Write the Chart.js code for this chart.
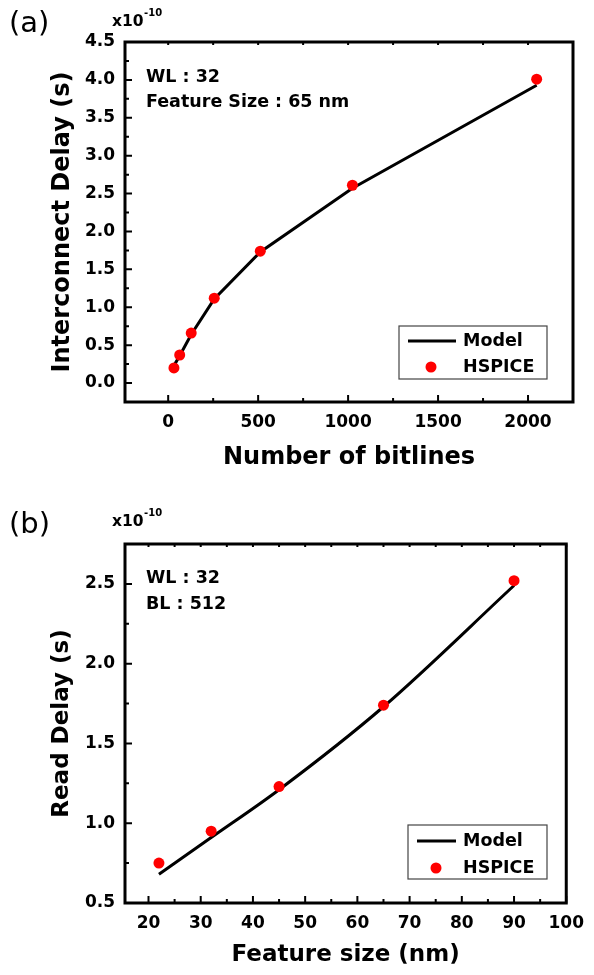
<!DOCTYPE html>
<html>
<head>
<meta charset="utf-8">
<script src="https://cdn.jsdelivr.net/npm/chart.js@4.4.0/dist/chart.umd.min.js"></script>
<style>
  html, body { margin: 0; padding: 0; background: #fff; }
  #wrap { position: relative; width: 594px; height: 975px; }
  canvas { position: absolute; left: 0; }
  #chartA { top: 0; }
  #chartB { top: 487px; }
</style>
</head>
<body>
<div id="wrap">
  <canvas id="chartA" width="594" height="487"></canvas>
  <canvas id="chartB" width="594" height="488"></canvas>
</div>
<script>
// (a) interconnect delay vs bitlines, values in units of 1e-10 s
const bitlines = [32, 64, 128, 256, 512, 1024, 2048];
const interconnectModel = [0.23, 0.36, 0.64, 1.11, 1.73, 2.57, 3.93];
const interconnectHspice = [0.20, 0.37, 0.66, 1.12, 1.74, 2.61, 4.01];
const bitlineTicks = [0, 500, 1000, 1500, 2000];
const interconnectTicks = [0.0, 0.5, 1.0, 1.5, 2.0, 2.5, 3.0, 3.5, 4.0, 4.5];

// (b) read delay vs feature size, units of 1e-10 s
const featureSizes = [22, 32, 45, 65, 90];
const readModel = [0.68, 0.91, 1.21, 1.73, 2.49];
const readHspice = [0.75, 0.95, 1.23, 1.74, 2.52];
const featureTicks = [20, 30, 40, 50, 60, 70, 80, 90, 100];
const readTicks = [0.5, 1.0, 1.5, 2.0, 2.5];

Chart.defaults.font.family = "'DejaVu Sans', sans-serif";
Chart.defaults.color = '#000';

const FONT = "'DejaVu Sans', sans-serif";

function tickSets(scale) {
  const major = scale.ticks.map(t => t.value);
  const step = major[1] - major[0];
  const minor = [];
  for (let v = major[0] - step / 2; v <= major[major.length - 1] + step / 2 + 1e-9; v += step) {
    minor.push(v);
  }
  return { major, minor };
}

const framePlugin = {
  id: 'frame',
  afterDraw(chart, args, opts) {
    const ctx = chart.ctx;
    const { left, top, right, bottom } = chart.chartArea;
    const sx = chart.scales.x, sy = chart.scales.y;
    ctx.save();
    ctx.strokeStyle = '#000';
    ctx.lineWidth = 2;

    // inward ticks
    const xt = tickSets(sx), yt = tickSets(sy);
    ctx.beginPath();
    xt.major.forEach(v => {
      const p = sx.getPixelForValue(v);
      ctx.moveTo(p, bottom); ctx.lineTo(p, bottom - 7);
      ctx.moveTo(p, top); ctx.lineTo(p, top + 3);
    });
    xt.minor.forEach(v => {
      const p = sx.getPixelForValue(v);
      if (p < left + 3 || p > right - 3) return;
      ctx.moveTo(p, bottom); ctx.lineTo(p, bottom - 4);
      ctx.moveTo(p, top); ctx.lineTo(p, top + 3);
    });
    yt.major.forEach(v => {
      const p = sy.getPixelForValue(v);
      ctx.moveTo(left, p); ctx.lineTo(left + 7, p);
    });
    yt.minor.forEach(v => {
      const p = sy.getPixelForValue(v);
      if (p < top + 3 || p > bottom - 3) return;
      ctx.moveTo(left, p); ctx.lineTo(left + 4, p);
    });
    ctx.stroke();

    // frame
    ctx.lineWidth = 3;
    ctx.strokeRect(left, top, right - left, bottom - top);

    // panel tag
    ctx.fillStyle = '#000';
    ctx.textBaseline = 'middle';
    ctx.textAlign = 'left';
    ctx.font = '29px ' + FONT;
    ctx.fillText(opts.tag, 9, opts.tagY);

    // exponent
    ctx.textBaseline = 'alphabetic';
    ctx.font = 'bold 15.5px ' + FONT;
    ctx.fillText('x10', 112, opts.expY);
    const w = ctx.measureText('x10').width;
    ctx.font = 'bold 10px ' + FONT;
    ctx.fillText('-10', 112 + w + 0.5, opts.expY - 10);

    // notes
    ctx.textBaseline = 'middle';
    ctx.font = 'bold 17.5px ' + FONT;
    opts.notes.forEach((n, i) => ctx.fillText(n, 146, opts.noteY[i]));

    // legend
    const lg = opts.legend;
    ctx.lineWidth = 1.2;
    ctx.strokeStyle = '#444';
    ctx.strokeRect(lg.x, lg.y, lg.w, lg.h);
    const dsModel = chart.data.datasets.find(d => d.label === 'Model');
    const dsH = chart.data.datasets.find(d => d.label === 'HSPICE');
    ctx.strokeStyle = dsModel.borderColor;
    ctx.lineWidth = dsModel.borderWidth;
    ctx.beginPath();
    ctx.moveTo(lg.lineX0, lg.row1); ctx.lineTo(lg.lineX1, lg.row1);
    ctx.stroke();
    ctx.fillStyle = dsH.pointBackgroundColor;
    ctx.beginPath();
    ctx.arc(lg.dotX, lg.row2, 5.5, 0, Math.PI * 2);
    ctx.fill();
    ctx.fillStyle = '#000';
    ctx.font = 'bold 17.5px ' + FONT;
    ctx.fillText(dsModel.label, lg.textX, lg.row1);
    ctx.fillText(dsH.label, lg.textX, lg.row2);
    ctx.restore();
  }
};

function makeChart(id, xs, model, hspice, c) {
  const modelSet = {
    label: 'Model',
    data: xs.map((x, i) => ({ x: x, y: model[i] })),
    borderColor: '#000000',
    borderWidth: 3,
    pointRadius: 0,
    order: 1
  };
  if (c.smooth) modelSet.cubicInterpolationMode = 'monotone';
  else modelSet.tension = 0;

  return new Chart(document.getElementById(id), {
    type: 'line',
    data: {
      datasets: [
        {
          label: 'HSPICE',
          data: xs.map((x, i) => ({ x: x, y: hspice[i] })),
          showLine: false,
          pointRadius: 5.5,
          pointBackgroundColor: '#ff0000',
          pointBorderWidth: 0,
          order: 0
        },
        modelSet
      ]
    },
    options: {
      responsive: false,
      animation: false,
      devicePixelRatio: 1,
      layout: { padding: { top: c.padTop, right: 21, left: 0, bottom: 0 } },
      plugins: {
        legend: { display: false },
        tooltip: { enabled: false },
        frame: c.frame
      },
      scales: {
        x: {
          type: 'linear',
          min: c.xMin,
          max: c.xMax,
          grid: { display: false, drawTicks: false },
          border: { display: false },
          afterFit(s) { s.height = c.xHeight; },
          afterBuildTicks(s) { s.ticks = c.xTicks.map(v => ({ value: v })); },
          ticks: {
            autoSkip: false,
            maxRotation: 0,
            padding: 10,
            font: { size: 17, weight: 'bold' },
            callback: v => String(v)
          },
          title: {
            display: true,
            text: c.xTitle,
            font: { size: c.xTitleSize, weight: 'bold' },
            padding: { top: 0, bottom: c.xTitlePad }
          }
        },
        y: {
          type: 'linear',
          min: c.yMin,
          max: c.yMax,
          grid: { display: false, drawTicks: false },
          border: { display: false },
          afterFit(s) { s.width = 125; },
          afterBuildTicks(s) { s.ticks = c.yTicks.map(v => ({ value: v })); },
          ticks: {
            autoSkip: false,
            padding: 10,
            font: { size: 17, weight: 'bold' },
            callback: v => Number(v).toFixed(1)
          },
          title: {
            display: true,
            text: c.yTitle,
            font: { size: c.yTitleSize, weight: 'bold' },
            padding: { top: 48, bottom: 0 }
          }
        }
      }
    },
    plugins: [framePlugin]
  });
}

makeChart('chartA', bitlines, interconnectModel, interconnectHspice, {
  padTop: 42, xHeight: 85, smooth: false,
  xMin: -240, xMax: 2250, yMin: -0.25, yMax: 4.5,
  xTicks: bitlineTicks, yTicks: interconnectTicks,
  xTitle: 'Number of bitlines', xTitleSize: 24, xTitlePad: 15,
  yTitle: 'Interconnect Delay (s)', yTitleSize: 24,
  frame: {
    tag: '(a)', tagY: 24, expY: 26,
    notes: ['WL : 32', 'Feature Size : 65 nm'], noteY: [77, 102],
    legend: { x: 399, y: 326, w: 148, h: 53, lineX0: 408, lineX1: 456, dotX: 431, textX: 463, row1: 341, row2: 367 }
  }
});

makeChart('chartB', featureSizes, readModel, readHspice, {
  padTop: 57, xHeight: 72, smooth: true,
  xMin: 15.5, xMax: 100, yMin: 0.5, yMax: 2.75,
  xTicks: featureTicks, yTicks: readTicks,
  xTitle: 'Feature size (nm)', xTitleSize: 23, xTitlePad: 6,
  yTitle: 'Read Delay (s)', yTitleSize: 23,
  frame: {
    tag: '(b)', tagY: 38, expY: 39,
    notes: ['WL : 32', 'BL : 512'], noteY: [91, 117],
    legend: { x: 408, y: 338, w: 139, h: 54, lineX0: 417, lineX1: 456, dotX: 436, textX: 463, row1: 354, row2: 381 }
  }
});
</script>
</body>
</html>
